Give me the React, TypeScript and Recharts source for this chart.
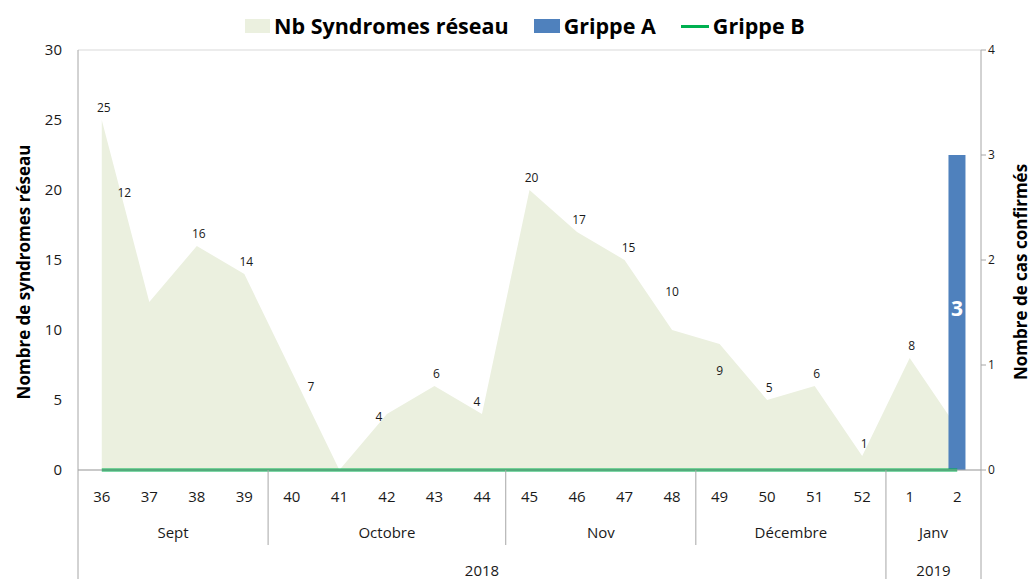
import React from "react";
import {
  ComposedChart,
  Area,
  Bar,
  Line,
  XAxis,
  YAxis,
  CartesianGrid,
  LabelList,
} from "recharts";

const weeks = ["36", "37", "38", "39", "40", "41", "42", "43", "44", "45", "46", "47", "48", "49", "50", "51", "52", "1", "2"];
const months = ["Sept", "Sept", "Sept", "Sept", "Octobre", "Octobre", "Octobre", "Octobre", "Octobre", "Nov", "Nov", "Nov", "Nov", "Décembre", "Décembre", "Décembre", "Décembre", "Janv", "Janv"];
const years = ["2018", "2018", "2018", "2018", "2018", "2018", "2018", "2018", "2018", "2018", "2018", "2018", "2018", "2018", "2018", "2018", "2018", "2019", "2019"];
const syndromes = [25, 12, 16, 14, 7, 0, 4, 6, 4, 20, 17, 15, 10, 9, 5, 6, 1, 8, 3];
const grippeA = [0, 0, 0, 0, 0, 0, 0, 0, 0, 0, 0, 0, 0, 0, 0, 0, 0, 0, 3];
const grippeB = [0, 0, 0, 0, 0, 0, 0, 0, 0, 0, 0, 0, 0, 0, 0, 0, 0, 0, 0];
const leftTicks = [0, 5, 10, 15, 20, 25, 30];
const rightTicks = [0, 1, 2, 3, 4];

const data = weeks.map((w, i) => ({
  week: w,
  month: months[i],
  year: years[i],
  syndromes: syndromes[i],
  grippeA: grippeA[i],
  grippeB: grippeB[i],
}));

const W = 1031;
const H = 579;
const LEFT = 78;
const RIGHT = 50;
const TOP = 50;
const BOTTOM = 109;
const BAND = (W - LEFT - RIGHT) / weeks.length;

const FONT = "'Open Sans', 'Noto Sans', sans-serif";
const AREA_FILL = "#EBF0DF";
const BLUE = "#4F81BD";
const GREEN = "#00B050";
const AXIS = "#A6A6A6";
const TEXT = "#1a1a1a";

// manual nudges for a few data labels (dx, dy) like in the source chart
const labelNudge: Record<number, [number, number]> = {
  1: [-25, -97],
  4: [19, 27],
  6: [-8, 15],
  8: [-5, 0],
  12: [0, -26],
  13: [0, 39],
  11: [4, 0],
};

function groupInfo(arr: string[], i: number) {
  const start = i === 0 || arr[i - 1] !== arr[i];
  let n = 0;
  while (i + n < arr.length && arr[i + n] === arr[i]) n++;
  return { start, n };
}

function WeekTick(props: any) {
  const { x, y, payload, index } = props;
  const m = groupInfo(months, index);
  const yr = groupInfo(years, index);
  const left = x - BAND / 2;
  const isLast = index === weeks.length - 1;
  return (
    <g>
      <text x={x} y={y + 32} textAnchor="middle" fontSize={15} fill={TEXT} fontFamily={FONT}>
        {payload.value}
      </text>
      {m.start && (
        <text x={x + ((m.n - 1) * BAND) / 2} y={y + 68} textAnchor="middle" fontSize={15} fill={TEXT} fontFamily={FONT}>
          {months[index]}
        </text>
      )}
      {yr.start && (
        <text x={x + ((yr.n - 1) * BAND) / 2} y={y + 106} textAnchor="middle" fontSize={15} fill={TEXT} fontFamily={FONT}>
          {years[index]}
        </text>
      )}
      {(m.start || index === 0) && (
        <line x1={left} x2={left} y1={y} y2={yr.start ? y + BOTTOM : y + 75} stroke={AXIS} strokeWidth={1} />
      )}
      {isLast && (
        <line x1={x + BAND / 2} x2={x + BAND / 2} y1={y} y2={y + BOTTOM} stroke={AXIS} strokeWidth={1} />
      )}
    </g>
  );
}

function PointLabel(props: any) {
  const { x, y, value, index } = props;
  // zero values carry no label, and the bar hides the label behind it
  if (!value || grippeA[index] > 0) return null;
  const [dx, dy] = labelNudge[index] || [2, 0];
  return (
    <text x={x + dx} y={y - 8 + dy} textAnchor="middle" fontSize={12} fill={TEXT} fontFamily={FONT}>
      {value}
    </text>
  );
}

function BarLabel(props: any) {
  const { x, y, width, height, value } = props;
  if (!value) return null;
  return (
    <text x={x + width / 2} y={y + height / 2 + 3} textAnchor="middle" fontSize={21} fontWeight="bold" fill="#fff" fontFamily={FONT}>
      {value}
    </text>
  );
}

function AxisTitle({ cx, cy, text }: { cx: number; cy: number; text: string }) {
  return (
    <text
      transform={`translate(${cx},${cy}) rotate(-90)`}
      textAnchor="middle"
      dominantBaseline="central"
      fontSize={17}
      fontWeight={700}
      fill="#000"
      fontFamily={FONT}
    >
      {text}
    </text>
  );
}

function ChartLegend() {
  const item: React.CSSProperties = { display: "flex", alignItems: "center", gap: 4 };
  const label: React.CSSProperties = { fontSize: 21.5, fontWeight: 700, color: "#000", fontFamily: FONT, lineHeight: "26px" };
  return (
    <div style={{ position: "absolute", left: 245, top: 13, display: "flex", gap: 25 }}>
      <div style={item}>
        <div style={{ width: 25, height: 14, background: AREA_FILL }} />
        <span style={label}>Nb Syndromes réseau</span>
      </div>
      <div style={item}>
        <div style={{ width: 26, height: 14, background: BLUE }} />
        <span style={label}>Grippe A</span>
      </div>
      <div style={item}>
        <div style={{ width: 28, height: 3, background: GREEN }} />
        <span style={label}>Grippe B</span>
      </div>
    </div>
  );
}

export default function App() {
  return (
    <div style={{ position: "relative", width: W, height: H, background: "#fff" }}>
      <style>{`body{margin:0}`}</style>
      <ChartLegend />
      <ComposedChart width={W} height={H} data={data} margin={{ top: TOP, right: 0, bottom: 0, left: 0 }}>
        <CartesianGrid vertical={false} stroke="#D9D9D9" />
        <XAxis
          dataKey="week"
          height={BOTTOM}
          tickLine={false}
          tickSize={0}
          tickMargin={0}
          stroke={AXIS}
          tick={<WeekTick />}
          interval={0}
        />
        <YAxis
          yAxisId="left"
          domain={[0, 30]}
          ticks={leftTicks}
          width={LEFT}
          stroke={AXIS}
          tickLine={false}
          tick={{ fontSize: 15, fill: TEXT, fontFamily: FONT }}
          tickMargin={10}
          label={{ content: () => <AxisTitle cx={23} cy={272} text="Nombre de syndromes réseau" /> }}
        />
        <YAxis
          yAxisId="right"
          orientation="right"
          domain={[0, 4]}
          ticks={rightTicks}
          width={RIGHT}
          stroke={AXIS}
          tickSize={5}
          tick={{ fontSize: 12, fill: TEXT, fontFamily: FONT }}
          label={{ content: () => <AxisTitle cx={1020} cy={272} text="Nombre de cas confirmés" /> }}
        />
        <Area
          yAxisId="left"
          type="linear"
          dataKey="syndromes"
          fill={AREA_FILL}
          fillOpacity={1}
          stroke="none"
          isAnimationActive={false}
        >
          <LabelList dataKey="syndromes" content={<PointLabel />} />
        </Area>
        <Bar yAxisId="right" dataKey="grippeA" fill={BLUE} barSize={17} isAnimationActive={false}>
          <LabelList dataKey="grippeA" content={<BarLabel />} />
        </Bar>
        <Line
          yAxisId="left"
          type="linear"
          dataKey="grippeB"
          stroke={GREEN}
          strokeWidth={3}
          dot={false}
          isAnimationActive={false}
        />
      </ComposedChart>
    </div>
  );
}
